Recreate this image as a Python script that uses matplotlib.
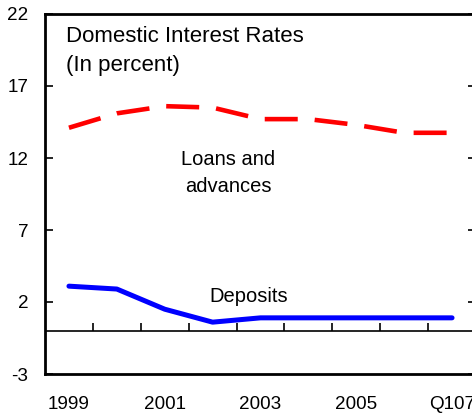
import numpy as np
import matplotlib.pyplot as plt

plt.rcParams['font.family'] = ['Liberation Sans', 'DejaVu Sans']
plt.rcParams['axes.unicode_minus'] = False

periods = ['1999', '2000', '2001', '2002', '2003', '2004', '2005', '2006', 'Q107']
loans = [14.1, 15.1, 15.6, 15.5, 14.7, 14.7, 14.3, 13.75, 13.75]
deposits = [3.1, 2.9, 1.5, 0.6, 0.9, 0.9, 0.9, 0.9, 0.9]
yticks = [-3, 2, 7, 12, 17, 22]
shown_labels = ['1999', '2001', '2003', '2005', 'Q107']

x = np.arange(len(periods))

fig = plt.figure(figsize=(4.72, 4.15), dpi=100)
ax = fig.add_axes([45 / 472, 41 / 415, 431 / 472, 360 / 415])

ax.plot(x, loans, color='#ff0000', lw=3.3, dashes=(7.2, 3.7), solid_capstyle='butt')
ax.plot(x, deposits, color='#0000ff', lw=3.6, solid_capstyle='round')

# zero line with category separator ticks
ax.axhline(0, color='black', lw=1.2)
ax.vlines(x[:-1] + 0.5, 0, 0.55, color='black', lw=1.2)

ax.set_xlim(-0.5, len(periods) - 0.5)
ax.set_ylim(-3, 22)
ax.set_yticks(yticks)
ax.set_xticks([periods.index(p) for p in shown_labels])
ax.set_xticklabels(shown_labels)

ax.tick_params(axis='y', direction='in', length=6, width=1.2, right=True,
               labelsize=13.6, pad=12)
ax.tick_params(axis='x', length=0, labelsize=13.6, pad=16)

for s in ax.spines.values():
    s.set_linewidth(2)

ax.text(-0.5 + 21 / 48, 21.2, 'Domestic Interest Rates\n(In percent)', fontsize=16,
        va='top', ha='left', linespacing=1.5)
ax.text(3.33, 10.95, 'Loans and\nadvances', fontsize=14.5, ha='center', va='center',
        linespacing=1.5)
ax.text(3.75, 2.35, 'Deposits', fontsize=14.5, ha='center', va='center')

fig.savefig('out.png', dpi=100)
